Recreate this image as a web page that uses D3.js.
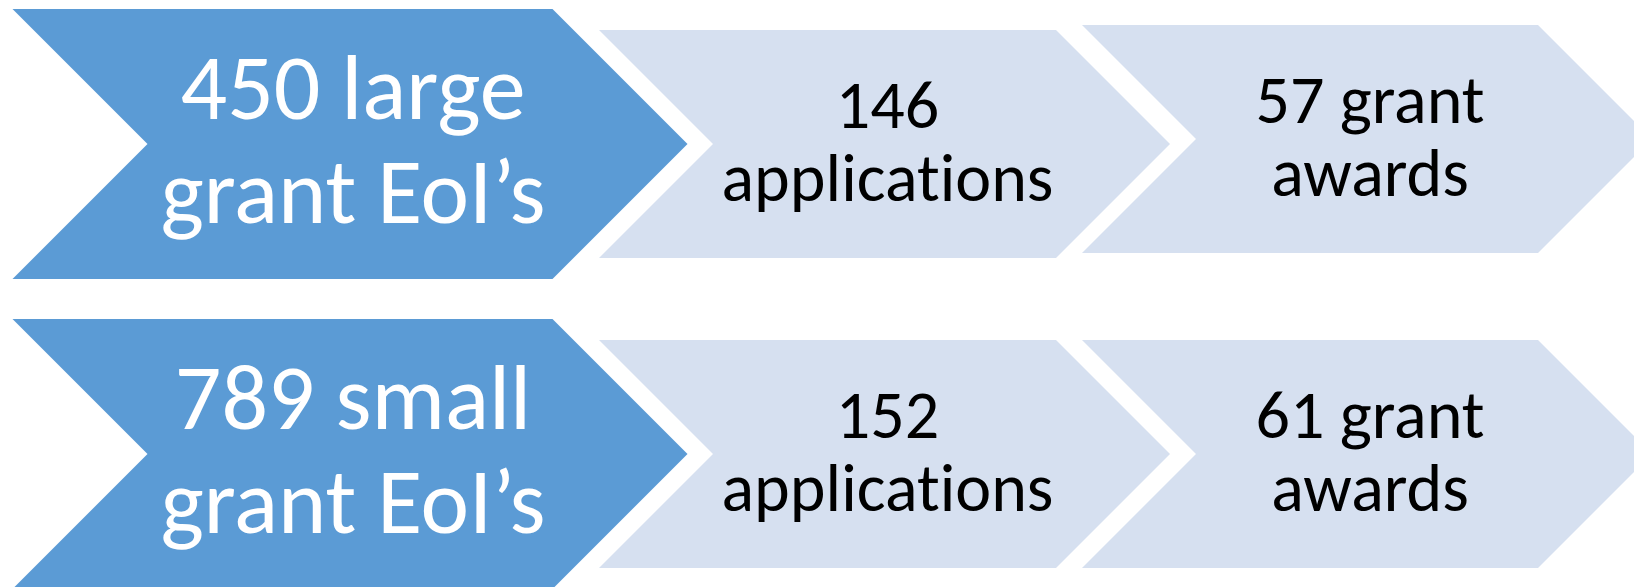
<!doctype HTML>
<meta charset="utf-8">
<title>Grant funnel</title>

<style>
body {
  margin: 0px;
  background: #fff;
}
svg {
  display: block;
}
text {
  font-family: Carlito, Calibri, "Open Sans", sans-serif;
  font-variant-ligatures: none;
  text-anchor: middle;
}
</style>

<script src="https://d3js.org/d3.v7.min.js"></script>

<body>
<script>
var width = 1634, height = 587;

// data
var rowKeys = ["large", "small"];
var stages = ["eoi", "applications", "awards"];
var eoiCounts = [450, 789];
var applicationCounts = [146, 152];
var awardCounts = [57, 61];

// two text lines per chevron
function labelLines(stage, i) {
  if (stage == "eoi") return [eoiCounts[i] + " " + rowKeys[i], "grant EoI\u2019s"];
  if (stage == "applications") return [String(applicationCounts[i]), "applications"];
  return [awardCounts[i] + " grant", "awards"];
}

// layout of each stage: left edge, body width, half height, text settings
var stageLayout = {
  eoi:          {x0: 12.5, body: 540, half: 135, fill: "#5B9BD5", color: "#fff", size: 92, b1: -25, b2: 79},
  applications: {x0: 599,  body: 457, half: 114, fill: "#D6E0F0", color: "#000", size: 68, b1: -16, b2: 57},
  awards:       {x0: 1082, body: 456, half: 114, fill: "#D6E0F0", color: "#000", size: 68, b1: -16, b2: 57}
};
// the third chevron of the top row sits a few px higher
var nudge = {large: {awards: -5}, small: {}};

var y = d3.scalePoint()
    .domain(rowKeys)
    .range([144, 454]);

var svg = d3.select("body").append("svg")
    .attr("width", width)
    .attr("height", height);

var line = d3.line();

function chevron(L, cy) {
  var x0 = L.x0, w = L.body, h = L.half;
  return line([
    [x0, cy - h], [x0 + w, cy - h], [x0 + w + h, cy],
    [x0 + w, cy + h], [x0, cy + h], [x0 + h, cy]
  ]) + "Z";
}

var cells = [];
rowKeys.forEach(function(r, i) {
  stages.forEach(function(s) {
    cells.push({row: r, i: i, stage: s});
  });
});

var g = svg.selectAll("g.cell")
    .data(cells)
  .enter().append("g")
    .attr("class", "cell");

g.append("path")
    .attr("d", function(d) {
      var cy = y(d.row) + (nudge[d.row][d.stage] || 0);
      return chevron(stageLayout[d.stage], cy);
    })
    .attr("fill", function(d) { return stageLayout[d.stage].fill; });

g.each(function(d) {
  var L = stageLayout[d.stage];
  var cy = y(d.row) + (nudge[d.row][d.stage] || 0);
  var cx = (L.x0 + L.x0 + L.body + L.half) / 2 + 3;
  var lines = labelLines(d.stage, d.i);
  var t = d3.select(this).append("text")
      .attr("fill", L.color)
      .style("font-size", L.size + "px");
  t.append("tspan").attr("x", cx).attr("y", cy + L.b1).text(lines[0]);
  t.append("tspan").attr("x", cx).attr("y", cy + L.b2).text(lines[1]);
});
</script>
